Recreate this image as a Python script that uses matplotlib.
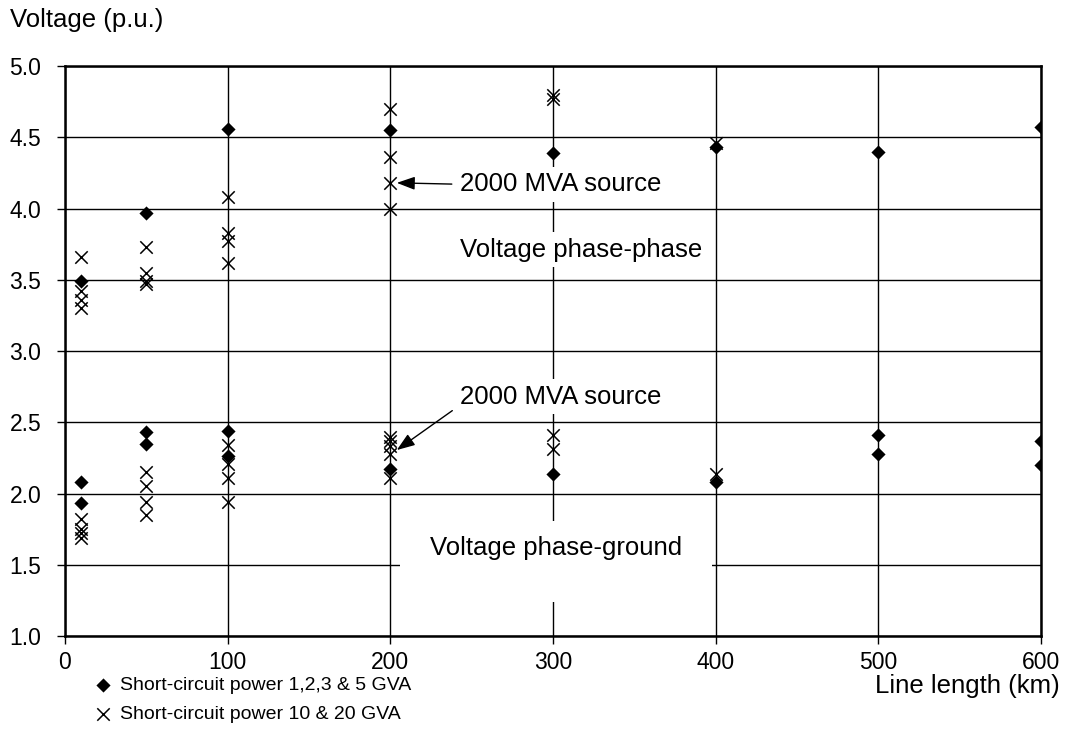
import matplotlib
matplotlib.use("Agg")
import matplotlib.pyplot as plt
from matplotlib.patches import Rectangle

plt.rcParams['font.family'] = ['Liberation Sans', 'DejaVu Sans']

# Line length (km) and peak overvoltage (p.u.)
# Short-circuit power 1,2,3 & 5 GVA
lo_pp_km = [10, 50, 100, 200, 300, 400, 500, 600]
lo_pp_v = [3.49, 3.97, 4.56, 4.55, 4.39, 4.43, 4.40, 4.57]
lo_pg_km = [10, 10, 50, 50, 100, 100, 200, 300, 400, 500, 500, 600, 600]
lo_pg_v = [2.08, 1.93, 2.43, 2.35, 2.44, 2.26, 2.17, 2.14, 2.08, 2.41, 2.28, 2.37, 2.20]

# Short-circuit power 10 & 20 GVA
hi_pp_km = [10, 10, 10, 10, 50, 50, 50, 50, 100, 100, 100, 100,
            200, 200, 200, 200, 300, 300, 400]
hi_pp_v = [3.66, 3.42, 3.36, 3.30, 3.73, 3.55, 3.49, 3.47, 4.08, 3.83, 3.77, 3.62,
           4.70, 4.36, 4.18, 4.00, 4.80, 4.77, 4.46]
hi_pg_km = [10, 10, 10, 10, 50, 50, 50, 50, 100, 100, 100, 100,
            200, 200, 200, 200, 200, 300, 300, 400]
hi_pg_v = [1.82, 1.75, 1.72, 1.69, 2.15, 2.05, 1.94, 1.85, 2.34, 2.21, 2.11, 1.94,
           2.40, 2.37, 2.33, 2.28, 2.11, 2.41, 2.31, 2.14]

x_ticks = [0, 100, 200, 300, 400, 500, 600]
y_ticks = [1.0, 1.5, 2.0, 2.5, 3.0, 3.5, 4.0, 4.5, 5.0]

lo_label = 'Short-circuit power 1,2,3 & 5 GVA'
hi_label = 'Short-circuit power 10 & 20 GVA'

fig = plt.figure(figsize=(10.65, 7.56), dpi=100)
ax = fig.add_axes([0.0610, 0.1587, 0.9164, 0.7540])

ax.set_xlim(0, 600)
ax.set_ylim(1.0, 5.0)
ax.set_xticks(x_ticks)
ax.set_yticks(y_ticks)
ax.set_xticklabels([str(t) for t in x_ticks])
ax.set_yticklabels([f'{t:.1f}' for t in y_ticks])
ax.tick_params(direction='out', length=6, width=1, labelsize=16.5, colors='black')
ax.tick_params(axis='x', pad=5)
ax.tick_params(axis='y', pad=11)

ax.set_axisbelow(True)
ax.grid(True, color='black', lw=1.0)
for s in ax.spines.values():
    s.set_linewidth(1.8)
    s.set_color('black')

dia = dict(marker='D', s=52, color='black', linewidths=0, zorder=3)
crs = dict(marker='x', s=80, color='black', linewidths=1.1, zorder=3)
h_lo = ax.scatter(lo_pp_km, lo_pp_v, label=lo_label, **dia)
ax.scatter(lo_pg_km, lo_pg_v, **dia)
h_hi = ax.scatter(hi_pp_km, hi_pp_v, label=hi_label, **crs)
ax.scatter(hi_pg_km, hi_pg_v, **crs)

fs_note = 18.5
box = dict(facecolor='white', edgecolor='none', pad=4)
arrow_style = '-|>,head_length=0.55,head_width=0.2'

ax.annotate('2000 MVA source', xy=(204, 4.18), xytext=(243, 4.17),
            ha='left', va='center', fontsize=fs_note, bbox=box, zorder=4,
            arrowprops=dict(arrowstyle=arrow_style, color='black', lw=1.0,
                            mutation_scale=20, shrinkB=0, relpos=(0, 0.5)))
ax.annotate('2000 MVA source', xy=(204, 2.305), xytext=(243, 2.68),
            ha='left', va='center', fontsize=fs_note, bbox=box, zorder=4,
            arrowprops=dict(arrowstyle=arrow_style, color='black', lw=1.0,
                            mutation_scale=20, shrinkB=0, relpos=(0, 0.15)))
ax.text(243, 3.71, 'Voltage phase-phase', ha='left', va='center',
        fontsize=fs_note, bbox=box, zorder=4)
ax.add_patch(Rectangle((206, 1.24), 192, 0.57, facecolor='white',
                       edgecolor='none', zorder=2))
ax.text(224.5, 1.62, 'Voltage phase-ground', ha='left', va='center',
        fontsize=fs_note, zorder=4)

fig.text(10 / 1065, 1 - 20 / 756, 'Voltage (p.u.)', ha='left', va='center',
         fontsize=18.5)
fig.text(1060 / 1065, 1 - 686 / 756, 'Line length (km)', ha='right',
         va='center', fontsize=18.5)

ax.legend(handles=[h_lo, h_hi], loc='upper left',
          bbox_to_anchor=(95 / 1065, 1 - 676 / 756),
          bbox_transform=fig.transFigure, frameon=False, fontsize=14,
          borderpad=0, borderaxespad=0, handlelength=0.8, handletextpad=0.48,
          labelspacing=0.6, scatterpoints=1)

fig.savefig('out.png', dpi=100)
